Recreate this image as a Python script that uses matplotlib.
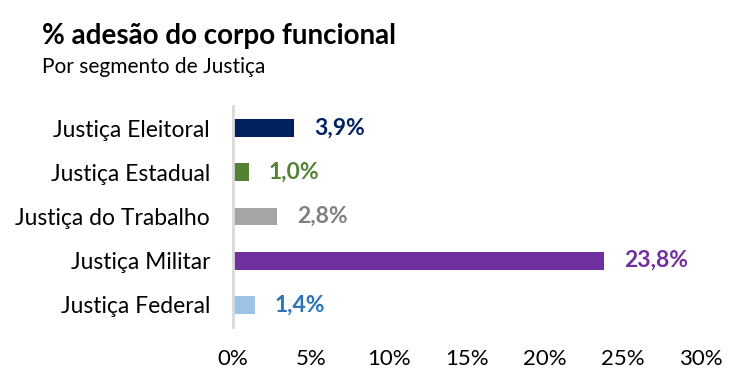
import matplotlib
matplotlib.use("Agg")
import matplotlib.pyplot as plt

categories = ["Justiça Eleitoral", "Justiça Estadual", "Justiça do Trabalho", "Justiça Militar", "Justiça Federal"]
values = [3.9, 1.0, 2.8, 23.8, 1.4]
bar_colors = ["#002060", "#548235", "#A5A5A5", "#7030A0", "#9DC3E6"]
label_colors = ["#002060", "#548235", "#808080", "#7030A0", "#2E75B6"]
xticks = [0, 5, 10, 15, 20, 25, 30]
xtick_labels = ["0%", "5%", "10%", "15%", "20%", "25%", "30%"]

plt.rcParams['font.family'] = ['Lato', 'DejaVu Sans']

fig = plt.figure(figsize=(7.46, 3.87), dpi=100)
ax = fig.add_axes([233/746, 1-327/387, (701-233)/746, (327-106)/387])

y = list(range(len(categories)))
ax.barh(y, values, height=0.4, color=bar_colors)
ax.set_ylim(len(categories)-0.5, -0.5)
ax.set_xlim(0, 30)
ax.set_yticks(y)
ax.set_yticklabels(categories, fontsize=16.5)
ax.set_xticks(xticks)
ax.set_xticklabels(xtick_labels, fontsize=16)
ax.tick_params(length=0)
ax.tick_params(axis='y', pad=16.5)
ax.tick_params(axis='x', pad=16)
for s in ["top", "right", "bottom"]:
    ax.spines[s].set_visible(False)
ax.spines["left"].set_color("#D9D9D9")
ax.spines["left"].set_linewidth(2)

for yi, v, c in zip(y, values, label_colors):
    ax.annotate(f"{v:.1f}%".replace(".", ","), (v, yi), xytext=(20, 0),
                textcoords="offset pixels",
                va="center", ha="left", fontsize=16.5, fontweight="bold", color=c)

fig.text(42/746, 1-36/387, "% adesão do corpo funcional", fontsize=20, fontweight="bold",
         va="center", ha="left", color="black")
fig.text(42/746, 1-67/387, "Por segmento de Justiça", fontsize=15, va="center", ha="left", color="black")

fig.savefig("out.png", dpi=100)
